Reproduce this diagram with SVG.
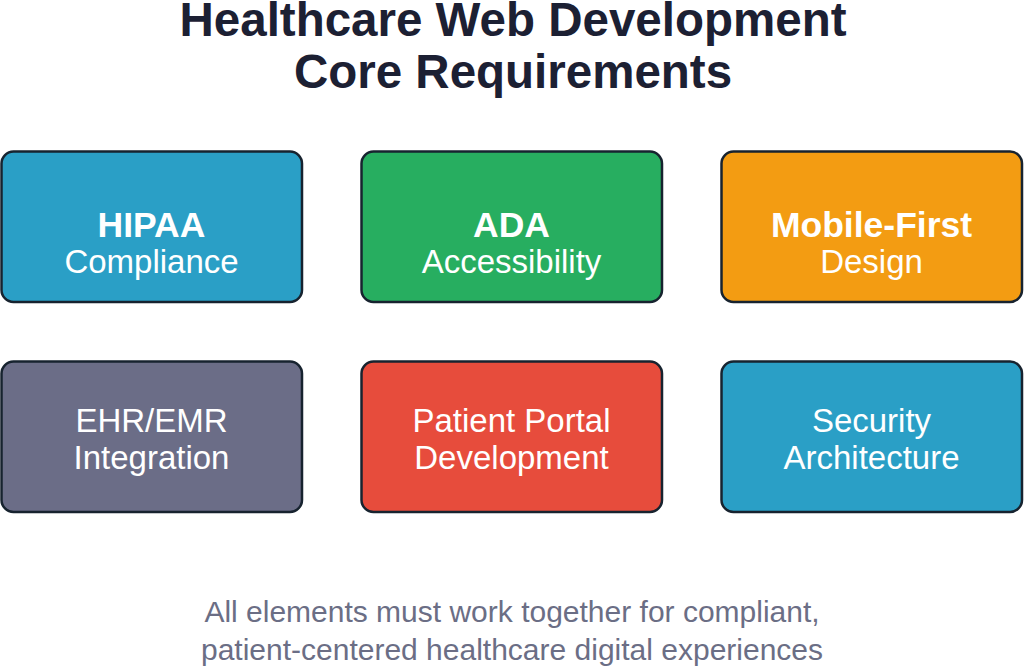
<svg xmlns="http://www.w3.org/2000/svg" width="1024" height="667" viewBox="0 0 1024 667">
<style>
.title{font-family:"Liberation Sans",Arial,sans-serif;font-weight:bold;font-size:47.5px;fill:#1c2033;text-anchor:middle}
.box{stroke:#17232f;stroke-width:2.5}
.b{font-family:"Liberation Sans",Arial,sans-serif;font-weight:bold;font-size:35.5px;fill:#ffffff;text-anchor:middle}
.r{font-family:"Liberation Sans",Arial,sans-serif;font-size:33px;fill:#ffffff;text-anchor:middle}
.foot{font-family:"Liberation Sans",Arial,sans-serif;font-size:30px;fill:#6b6e85;text-anchor:middle}
</style>
<rect width="1024" height="667" fill="#ffffff"/>
<text class="title" x="513" y="36">Healthcare Web Development</text>
<text class="title" x="513" y="88">Core Requirements</text>
<g id="connectors"></g>
<g id="hipaa">
<rect class="box" x="1.5" y="151.5" width="300.5" height="150.5" rx="12" fill="#2a9fc6"/>
<text class="b" x="151.5" y="237">HIPAA</text>
<text class="r" x="151.5" y="273">Compliance</text>
</g>
<g id="ada">
<rect class="box" x="361.5" y="151.5" width="300.5" height="150.5" rx="12" fill="#27ae60"/>
<text class="b" x="511.5" y="237">ADA</text>
<text class="r" x="511.5" y="273">Accessibility</text>
</g>
<g id="mobile">
<rect class="box" x="721.5" y="151.5" width="300.5" height="150.5" rx="12" fill="#f39c12"/>
<text class="b" x="871.5" y="237">Mobile-First</text>
<text class="r" x="871.5" y="273">Design</text>
</g>
<g id="ehr">
<rect class="box" x="1.5" y="361.5" width="300.5" height="150.5" rx="12" fill="#6b6d87"/>
<text class="r" x="151.5" y="432">EHR/EMR</text>
<text class="r" x="151.5" y="469">Integration</text>
</g>
<g id="portal">
<rect class="box" x="361.5" y="361.5" width="300.5" height="150.5" rx="12" fill="#e74c3c"/>
<text class="r" x="511.5" y="432">Patient Portal</text>
<text class="r" x="511.5" y="469">Development</text>
</g>
<g id="security">
<rect class="box" x="721.5" y="361.5" width="300.5" height="150.5" rx="12" fill="#2a9fc6"/>
<text class="r" x="871.5" y="432">Security</text>
<text class="r" x="871.5" y="469">Architecture</text>
</g>
<text class="foot" x="512" y="622">All elements must work together for compliant,</text>
<text class="foot" x="512" y="660">patient-centered healthcare digital experiences</text>
</svg>
